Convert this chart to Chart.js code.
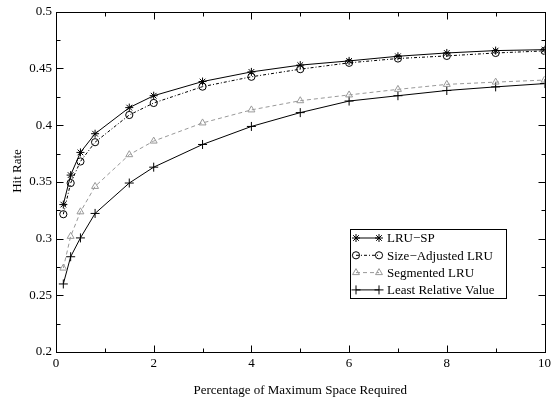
<!DOCTYPE html>
<html>
<head>
<meta charset="utf-8">
<script src="https://cdn.jsdelivr.net/npm/chart.js@4.4.0/dist/chart.umd.min.js"></script>
<style>
body { margin: 0; background: #fff; }
#chart { display: block; }
</style>
</head>
<body>
<canvas id="chart" width="555" height="402"></canvas>
<script>
const spaceRequired = [0.15, 0.3, 0.5, 0.8, 1.5, 2, 3, 4, 5, 6, 7, 8, 9, 10]
const lruSP = [0.330, 0.356, 0.376, 0.3925, 0.4155, 0.426, 0.4385, 0.447, 0.453, 0.4567, 0.4608, 0.4637, 0.4658, 0.4666]
const sizeAdjustedLRU = [0.3215, 0.349, 0.368, 0.385, 0.409, 0.4196, 0.434, 0.4427, 0.4494, 0.455, 0.4588, 0.4611, 0.4637, 0.4655]
const segmentedLRU = [0.274, 0.302, 0.3236, 0.346, 0.374, 0.386, 0.402, 0.4135, 0.4216, 0.4267, 0.4316, 0.436, 0.438, 0.4398]
const leastRelativeValue = [0.260, 0.284, 0.3006, 0.3222, 0.349, 0.363, 0.383, 0.3989, 0.4111, 0.4213, 0.426, 0.4306, 0.4338, 0.4367]
const seriesNames = ['LRU\u2212SP', 'Size\u2212Adjusted LRU', 'Segmented LRU', 'Least Relative Value']
const yTitle = 'Hit Rate'

const xTickValues = [1, 2, 3, 4, 5, 6, 7, 8, 9]
const yTickValues = [0.225, 0.25, 0.275, 0.3, 0.325, 0.35, 0.375, 0.4, 0.425, 0.45, 0.475]

const fontFace = "'Liberation Serif', 'Times New Roman', serif"

function toPoints(vals) {
    return vals.map((v, i) => ({x: spaceRequired[i], y: v}))
}

function makeDataset(label, vals, color, style, radius, dash) {
    return {
        label: label,
        data: toPoints(vals),
        borderColor: color,
        backgroundColor: 'rgba(0,0,0,0)',
        borderWidth: 1,
        borderDash: dash,
        pointStyle: style,
        pointRadius: radius,
        pointBorderColor: color,
        pointBackgroundColor: 'rgba(0,0,0,0)',
        pointBorderWidth: 1,
        tension: 0
    }
}

const datasets = [
    makeDataset(seriesNames[0], lruSP, '#000', 'star', 4, []),
    makeDataset(seriesNames[1], sizeAdjustedLRU, '#000', 'circle', 3.6, [3, 2, 1, 2]),
    makeDataset(seriesNames[2], segmentedLRU, '#999', 'triangle', 4, [4, 3]),
    makeDataset(seriesNames[3], leastRelativeValue, '#000', 'cross', 4.5, [])
]

// frame, inward ticks on all four sides, y title and the boxed legend
const framePlugin = {
    id: 'frame',
    afterDraw(chart) {
        const ctx = chart.ctx
        const a = chart.chartArea
        const xs = chart.scales.x
        const ys = chart.scales.y
        const L = Math.round(a.left) + 0.5, R = Math.round(a.right) + 0.5
        const T = Math.round(a.top) + 0.5, B = Math.round(a.bottom) + 0.5
        ctx.save()
        ctx.strokeStyle = '#000'
        ctx.lineWidth = 1
        ctx.setLineDash([])
        ctx.strokeRect(L, T, R - L, B - T)
        ctx.beginPath()
        xTickValues.forEach(v => {
            const px = Math.round(xs.getPixelForValue(v)) + 0.5
            const len = v % 2 == 0 ? 7 : 4
            ctx.moveTo(px, B); ctx.lineTo(px, B - len)
            ctx.moveTo(px, T); ctx.lineTo(px, T + len)
        })
        yTickValues.forEach(v => {
            const py = Math.round(ys.getPixelForValue(v)) + 0.5
            const len = Math.round(v * 1000) % 50 == 0 ? 7 : 4
            ctx.moveTo(L, py); ctx.lineTo(L + len, py)
            ctx.moveTo(R, py); ctx.lineTo(R - len, py)
        })
        ctx.stroke()

        ctx.font = '13px ' + fontFace
        ctx.fillStyle = '#000'
        ctx.textAlign = 'center'
        ctx.textBaseline = 'middle'
        ctx.save()
        ctx.translate(18, 171)
        ctx.rotate(-Math.PI / 2)
        ctx.fillText(yTitle, 0, 0)
        ctx.restore()

        // legend
        const box = {left: 350.5, top: 229.5, width: 156, height: 69}
        ctx.fillStyle = '#fff'
        ctx.fillRect(box.left, box.top, box.width, box.height)
        ctx.strokeRect(box.left, box.top, box.width, box.height)
        ctx.textAlign = 'left'
        datasets.forEach((ds, i) => {
            const y = 238 + i * 17.3
            ctx.strokeStyle = ds.borderColor
            ctx.lineWidth = 1
            ctx.setLineDash(ds.borderDash)
            ctx.beginPath()
            ctx.moveTo(356, y); ctx.lineTo(379, y)
            ctx.stroke()
            ctx.setLineDash([])
            const opts = {pointStyle: ds.pointStyle, radius: ds.pointRadius, rotation: 0, borderWidth: 1}
            ctx.fillStyle = 'rgba(0,0,0,0)'
            Chart.helpers.drawPoint(ctx, opts, 356, y)
            Chart.helpers.drawPoint(ctx, opts, 379, y)
            ctx.fillStyle = '#000'
            ctx.fillText(ds.label, 387, y + 1)
        })
        ctx.restore()
    }
}

new Chart(document.getElementById('chart'), {
    type: 'line',
    data: { datasets: datasets },
    options: {
        responsive: false,
        animation: false,
        devicePixelRatio: 1,
        layout: { padding: { top: 10, right: 9, left: 0, bottom: 0 } },
        plugins: { legend: { display: false }, tooltip: { enabled: false } },
        scales: {
            x: {
                type: 'linear',
                min: 0,
                max: 10,
                grid: { display: false, drawTicks: false },
                border: { display: false },
                ticks: {
                    stepSize: 2,
                    padding: 4,
                    color: '#000',
                    maxRotation: 0,
                    font: { family: fontFace, size: 13 }
                },
                title: {
                    display: true,
                    text: 'Percentage of Maximum Space Required',
                    color: '#000',
                    padding: { top: 0, bottom: 4 },
                    font: { family: fontFace, size: 13 }
                },
                afterFit(scale) { scale.height = 50 }
            },
            y: {
                min: 0.2,
                max: 0.5,
                grid: { display: false, drawTicks: false },
                border: { display: false },
                ticks: {
                    stepSize: 0.05,
                    padding: 4,
                    color: '#000',
                    font: { family: fontFace, size: 13 },
                    callback: v => String(+v.toFixed(2))
                },
                afterFit(scale) { scale.width = 56 }
            }
        }
    },
    plugins: [framePlugin]
})
</script>
</body>
</html>
